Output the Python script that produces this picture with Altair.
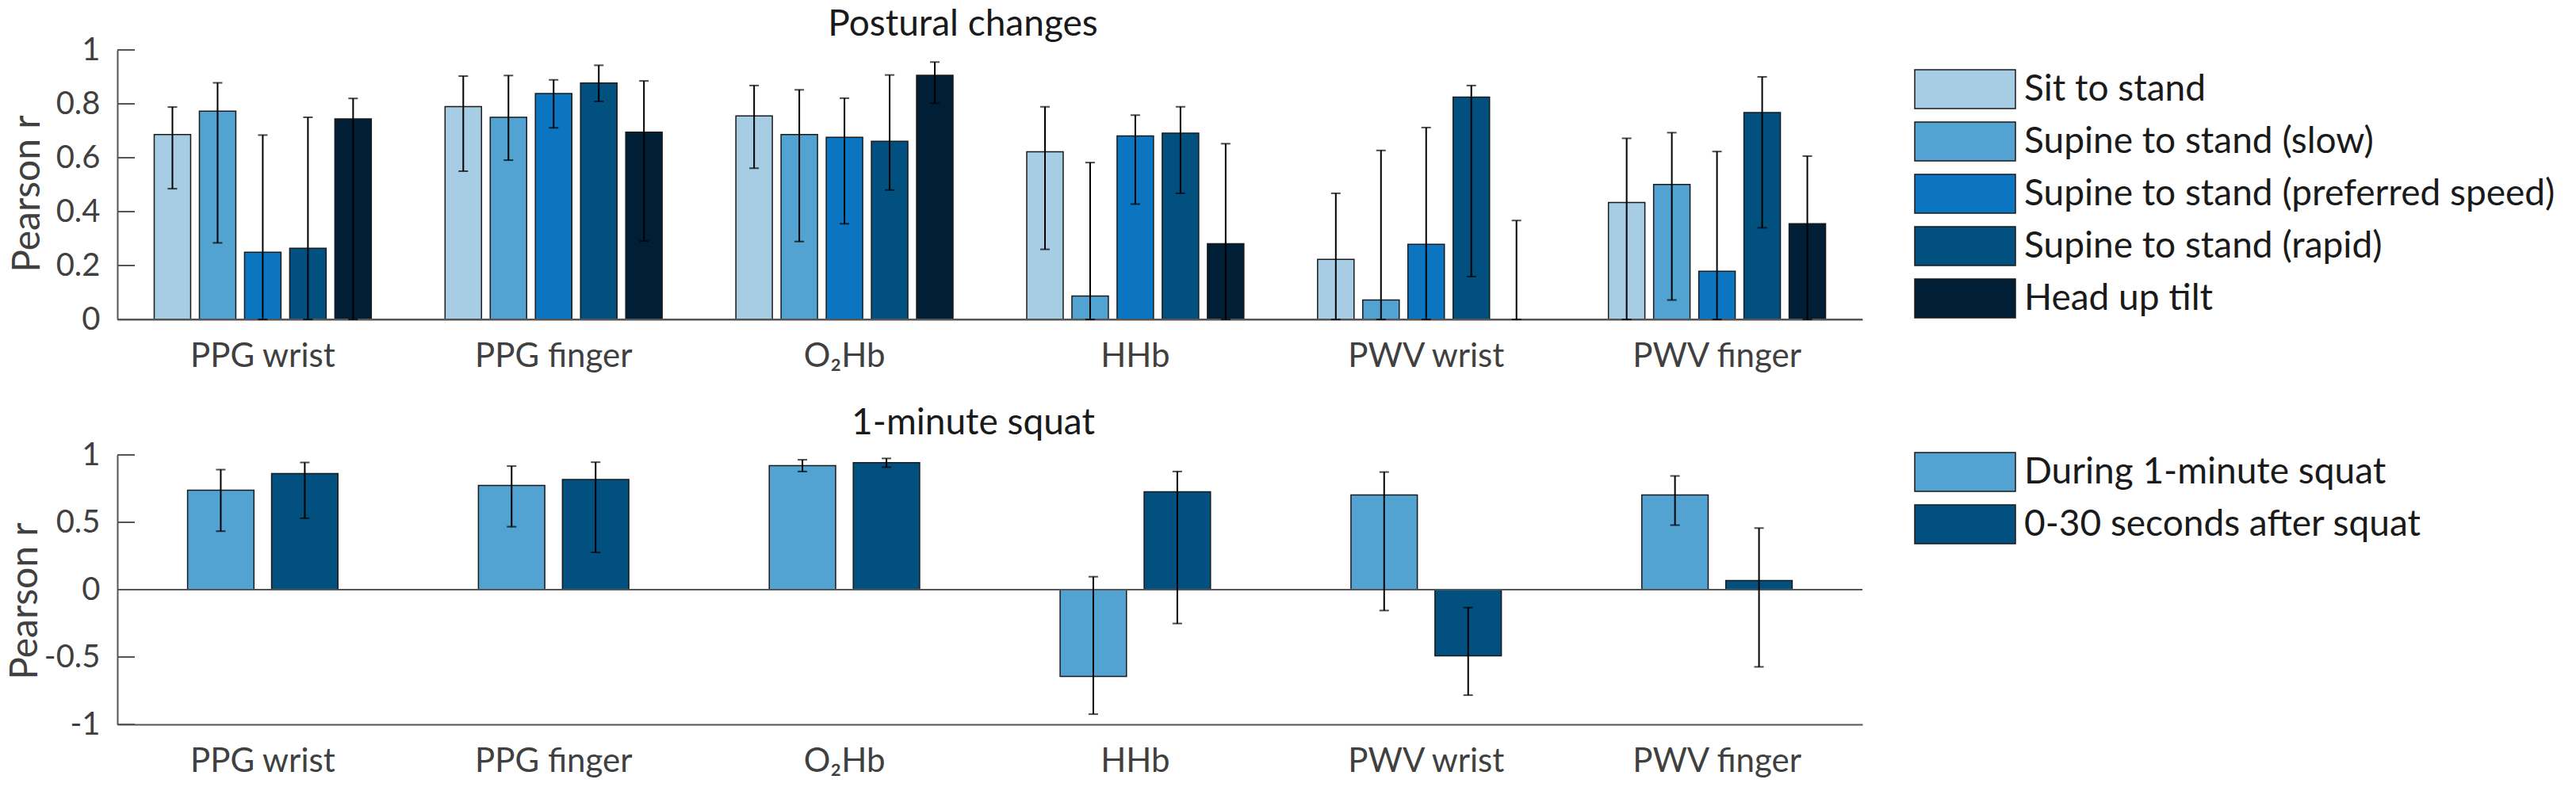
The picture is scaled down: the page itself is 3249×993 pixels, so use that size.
import altair as alt
import pandas as pd

# ---------------- data ----------------
groups = ["PPG wrist", "PPG finger", "O₂Hb", "HHb", "PWV wrist", "PWV finger"]

postural_conditions = [
    "Sit to stand",
    "Supine to stand (slow)",
    "Supine to stand (preferred speed)",
    "Supine to stand (rapid)",
    "Head up tilt",
]
postural_colors = ["#a6cde3", "#52a2d2", "#0b75c1", "#02507f", "#001e36"]

sit_r = [0.686, 0.790, 0.755, 0.622, 0.223, 0.434]
sit_lo = [0.485, 0.550, 0.561, 0.260, 0.0, 0.0]
sit_hi = [0.788, 0.903, 0.868, 0.789, 0.468, 0.672]

slow_r = [0.773, 0.750, 0.686, 0.087, 0.072, 0.501]
slow_lo = [0.284, 0.591, 0.289, 0.0, 0.0, 0.072]
slow_hi = [0.878, 0.905, 0.852, 0.582, 0.627, 0.693]

pref_r = [0.249, 0.838, 0.676, 0.681, 0.279, 0.179]
pref_lo = [0.0, 0.711, 0.355, 0.428, 0.0, 0.0]
pref_hi = [0.684, 0.889, 0.821, 0.758, 0.712, 0.623]

rapid_r = [0.264, 0.877, 0.661, 0.691, 0.825, 0.768]
rapid_lo = [0.0, 0.809, 0.480, 0.468, 0.159, 0.340]
rapid_hi = [0.750, 0.943, 0.907, 0.789, 0.868, 0.900]

hut_r = [0.744, 0.695, 0.906, 0.281, 0.0, 0.355]
hut_lo = [0.0, 0.291, 0.802, 0.0, 0.0, 0.0]
hut_hi = [0.820, 0.885, 0.955, 0.652, 0.367, 0.606]

squat_conditions = ["During 1-minute squat", "0-30 seconds after squat"]
squat_colors = ["#52a2d2", "#02507f"]

during_r = [0.738, 0.773, 0.921, -0.644, 0.703, 0.703]
during_lo = [0.434, 0.467, 0.877, -0.924, -0.155, 0.479]
during_hi = [0.891, 0.917, 0.964, 0.096, 0.873, 0.844]

after_r = [0.862, 0.818, 0.942, 0.726, -0.491, 0.067]
after_lo = [0.530, 0.277, 0.909, -0.251, -0.783, -0.573]
after_hi = [0.944, 0.946, 0.974, 0.877, -0.133, 0.457]

top_ticks = [0, 0.2, 0.4, 0.6, 0.8, 1]
bottom_ticks = [-1, -0.5, 0, 0.5, 1]
zero_line = [0]

# ---------------- tables ----------------
def build(conds, series):
    rows = []
    for c, (r, lo, hi) in zip(conds, series):
        for g, rv, lv, hv in zip(groups, r, lo, hi):
            rows.append({"group": g, "condition": c, "r": rv, "lo": lv, "hi": hv})
    return pd.DataFrame(rows)

top_df = build(postural_conditions, [
    (sit_r, sit_lo, sit_hi), (slow_r, slow_lo, slow_hi), (pref_r, pref_lo, pref_hi),
    (rapid_r, rapid_lo, rapid_hi), (hut_r, hut_lo, hut_hi)])
bot_df = build(squat_conditions, [(during_r, during_lo, during_hi), (after_r, after_lo, after_hi)])

AX = "#555555"
LAB = "#404040"
FONT = "Lato"
W = 2201
H = 340
RECT = "M-1,-0.386H1V0.386H-1Z"


def panel(df, conds, colors, domain, ticks, title, pad_in, pad_out, title_pad,
          title_y, legend_y, title_dx, title_offset):
    x = alt.X("group:N", sort=groups,
              scale=alt.Scale(paddingInner=0, paddingOuter=0),
              axis=alt.Axis(title=None, ticks=False, labelAngle=0, labelFont=FONT,
                            labelFontSize=42, labelColor=LAB, labelPadding=26,
                            labelLimit=1000, domainColor=AX, domainWidth=2))
    xo = alt.XOffset("condition:N", sort=conds,
                     scale=alt.Scale(paddingInner=pad_in, paddingOuter=pad_out))
    yaxis = alt.Axis(title="Pearson r", values=ticks, ticks=False, grid=False,
                     labelExpr="datum.value + ''", labelFont=FONT, labelFontSize=40,
                     labelColor=LAB, labelPadding=22, domainColor=AX, domainWidth=2,
                     titleFont=FONT, titleFontSize=48, titleFontWeight="normal",
                     titleColor=LAB, titlePadding=title_pad, titleY=title_y)
    y = alt.Y("r:Q", scale=alt.Scale(domain=domain, nice=False), axis=yaxis)

    bars = alt.Chart(df).mark_bar(stroke="#1a1a1a", strokeWidth=1.5, opacity=1).encode(
        x=x, xOffset=xo, y=y,
        color=alt.Color("condition:N", sort=conds,
                        scale=alt.Scale(domain=conds, range=colors),
                        legend=alt.Legend(orient="none", legendX=2266, legendY=legend_y,
                                          title=None, symbolType=RECT, symbolSize=16129,
                                          symbolStrokeColor="#1a1a1a", symbolStrokeWidth=1.5,
                                          symbolOpacity=1, labelFont=FONT, labelFontSize=46,
                                          labelColor="#1a1a1a", labelLimit=1000,
                                          labelOffset=10, clipHeight=52, rowPadding=14,
                                          padding=0, offset=0)),
    )
    err = alt.Chart(df).mark_rule(color="black", strokeWidth=2).encode(
        x=x, xOffset=xo, y=alt.Y("lo:Q"), y2="hi:Q")
    cap_lo = alt.Chart(df).mark_tick(color="black", size=12, thickness=2).encode(
        x=x, xOffset=xo, y=alt.Y("lo:Q"))
    cap_hi = alt.Chart(df).mark_tick(color="black", size=12, thickness=2).encode(
        x=x, xOffset=xo, y=alt.Y("hi:Q"))
    tick_df = pd.DataFrame({"t": ticks})
    tmarks = alt.Chart(tick_df).mark_rule(color=AX, strokeWidth=2).encode(
        y=alt.Y("t:Q"), x=alt.value(0), x2=alt.value(22))
    zero_df = pd.DataFrame({"z": zero_line})
    zline = alt.Chart(zero_df).mark_rule(color=AX, strokeWidth=2).encode(y=alt.Y("z:Q"))

    return alt.layer(bars, zline, err, cap_lo, cap_hi, tmarks).properties(
        width=W, height=H,
        title=alt.Title(title, font=FONT, fontSize=46, fontWeight="normal", color="#1a1a1a",
                        anchor="middle", frame="group", offset=title_offset, dx=title_dx),
    ).resolve_scale(y="shared")


top = panel(top_df, postural_conditions, postural_colors, [0, 1], top_ticks,
            "Postural changes", 0.193, 0.816, 11, H / 2 + 11, 23.5, -34, -12)
bottom = panel(bot_df, squat_conditions, squat_colors, [-1, 1], bottom_ticks,
               "1-minute squat", 0.21, 0.836, -1, H / 2 + 14, -4.5, -21, -4)

chart = alt.vconcat(top, bottom, spacing=171, bounds="flush").resolve_scale(
    color="independent", x="independent", y="independent", xOffset="independent"
).resolve_legend(color="independent").properties(
    padding={"left": 0, "top": 0, "right": 0, "bottom": 0},
    background="white",
).configure_view(strokeWidth=0)

chart.save("out.html", embed_options={"renderer": "svg", "actions": False})
